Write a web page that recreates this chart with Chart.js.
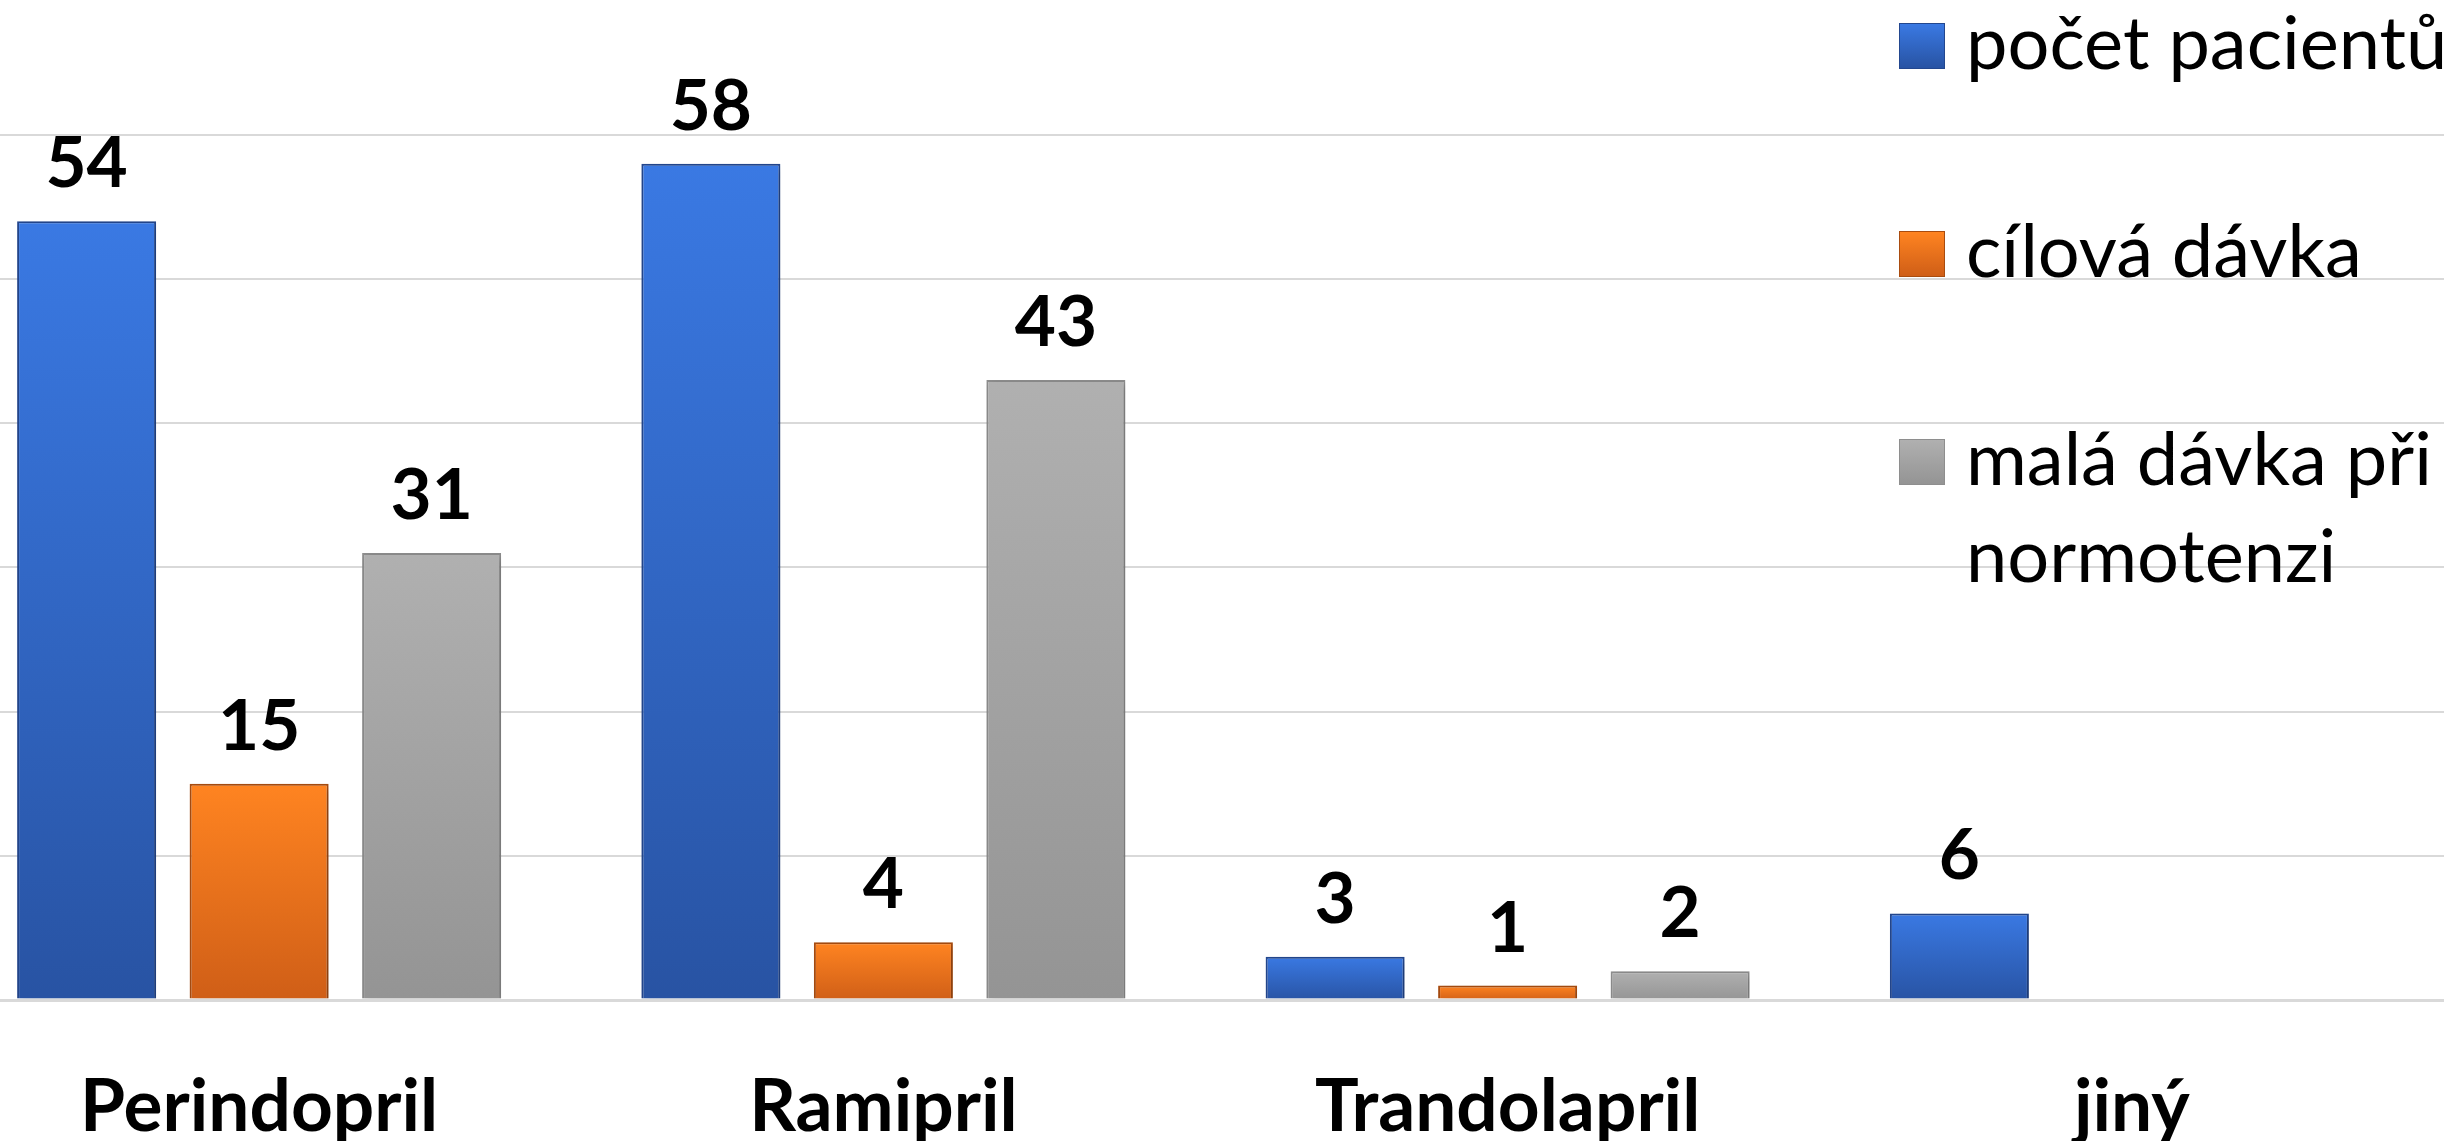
<!DOCTYPE html>
<html>
<head>
<meta charset="utf-8">
<script src="https://cdn.jsdelivr.net/npm/chart.js@4.4.0/dist/chart.umd.min.js"></script>
<style>
  html, body { margin: 0; padding: 0; background: #fff; overflow: hidden; }
  #wrap { position: absolute; left: -53px; top: 0; width: 2511px; height: 1141px; }
  #legend { position: absolute; left: 1899px; top: 0; font-family: Lato, sans-serif; font-size: 74px; color: #000; }
  .item { position: absolute; left: 0; }
  .box { position: absolute; left: 0; top: 0; width: 46px; height: 46px; box-sizing: border-box; }
  .txt { position: absolute; left: 67px; top: -31px; white-space: pre; line-height: 97px; }
</style>
</head>
<body>
<div id="wrap"><canvas id="myChart"></canvas></div>
<div id="legend"></div>
<script>
// data
const categories = ['Perindopril', 'Ramipril', 'Trandolapril', 'jiný'];
const seriesNames = ['počet pacientů', 'cílová dávka', 'malá dávka při\nnormotenzi'];
const pocetPacientu = [54, 58, 3, 6];
const cilovaDavka = [15, 4, 1, null];
const malaDavka = [31, 43, 2, null];

// top / bottom of the gradient, border
const palette = [
  ['#3A79E3', '#2853A3', '#23478f'],
  ['#FF8421', '#CF5E17', '#a94c0f'],
  ['#B0B0B0', '#949494', '#8e8e8e']
];

function barFill(cols) {
  return (c) => {
    const chart = c.chart;
    if (!chart.chartArea || c.raw == null) return cols[0];
    const y = chart.scales.y;
    const top = y.getPixelForValue(c.raw);
    const bottom = y.getPixelForValue(0);
    const g = chart.ctx.createLinearGradient(0, top, 0, bottom + 1);
    g.addColorStop(0, cols[0]);
    g.addColorStop(1, cols[1]);
    return g;
  };
}

const barLook = {
  id: 'barLook',
  beforeDatasetsDraw(chart) {
    const ctx = chart.ctx;
    ctx.save();
    ctx.shadowColor = 'rgba(0,0,0,0.22)';
    ctx.shadowBlur = 8;
    ctx.shadowOffsetX = 3;
    ctx.shadowOffsetY = 3;
  },
  afterDatasetsDraw(chart) {
    const ctx = chart.ctx;
    ctx.restore();
    ctx.save();
    ctx.font = 'bold 71px Lato';
    ctx.fillStyle = '#000';
    ctx.textAlign = 'center';
    ctx.textBaseline = 'alphabetic';
    chart.data.datasets.forEach((ds, i) => {
      chart.getDatasetMeta(i).data.forEach((bar, j) => {
        if (ds.data[j] == null) return;
        ctx.fillText(ds.data[j], bar.x, bar.y - 34);
      });
    });
    ctx.restore();
  }
};

Chart.defaults.font.family = 'Lato';

const allSeries = [pocetPacientu, cilovaDavka, malaDavka];

const chart = new Chart(document.getElementById('myChart').getContext('2d'), {
  type: 'bar',
  data: {
    labels: categories,
    datasets: allSeries.map((vals, i) => ({
      label: seriesNames[i],
      data: vals,
      backgroundColor: barFill(palette[i]),
      borderColor: palette[i][2],
      borderWidth: 2,
      categoryPercentage: 0.829,
      barPercentage: 0.806
    }))
  },
  options: {
    responsive: true,
    maintainAspectRatio: false,
    animation: false,
    layout: { padding: { left: 0, right: 14, top: 0, bottom: 0 } },
    plugins: { legend: { display: false }, tooltip: { enabled: false } },
    scales: {
      x: {
        grid: { display: false },
        border: { display: false },
        ticks: { color: '#000', font: { size: 73, weight: 'bold' }, padding: 56, maxRotation: 0, autoSkip: false },
        afterFit: (scale) => { scale.height = 141; }
      },
      y: {
        min: 0,
        max: 69.35,
        border: { display: false },
        ticks: { display: false, stepSize: 10 },
        grid: {
          drawTicks: false,
          color: (c) => (c.tick.value % 10 === 0 ? '#d9d9d9' : 'rgba(0,0,0,0)'),
          lineWidth: (c) => (c.tick.value === 0 ? 3 : 2)
        }
      }
    }
  },
  plugins: [barLook]
});

// legend built from the datasets
const legend = document.getElementById('legend');
chart.data.datasets.forEach((ds, i) => {
  const item = document.createElement('div');
  item.className = 'item';
  item.style.top = (23 + i * 208) + 'px';
  const box = document.createElement('div');
  box.className = 'box';
  box.style.background = 'linear-gradient(' + palette[i][0] + ',' + palette[i][1] + ')';
  box.style.border = '1px solid ' + palette[i][2];
  const txt = document.createElement('div');
  txt.className = 'txt';
  txt.textContent = ds.label;
  item.appendChild(box);
  item.appendChild(txt);
  legend.appendChild(item);
});
</script>
</body>
</html>
